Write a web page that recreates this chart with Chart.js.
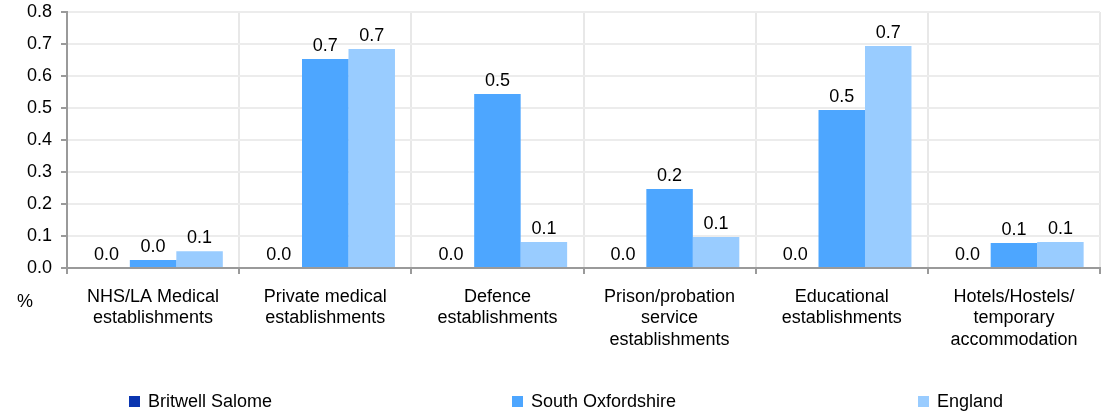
<!DOCTYPE html>
<html>
<head>
<meta charset="utf-8">
<script src="https://cdn.jsdelivr.net/npm/chart.js@4.4.1/dist/chart.umd.min.js"></script>
<style>
  body { margin: 0; background: #fff; }
  #wrap { width: 1106px; height: 412px; }
</style>
</head>
<body>
<div id="wrap"><canvas id="chart" width="1106" height="412"></canvas></div>
<script>
// data
const categories = [
  ['NHS/LA Medical', 'establishments'],
  ['Private medical', 'establishments'],
  ['Defence', 'establishments'],
  ['Prison/probation', 'service', 'establishments'],
  ['Educational', 'establishments'],
  ['Hotels/Hostels/', 'temporary', 'accommodation']
];
const seriesNames = ['Britwell Salome', 'South Oxfordshire', 'England'];
const britwell = [0, 0, 0, 0, 0, 0];
const southOxon = [0.025, 0.653, 0.544, 0.247, 0.494, 0.078];
const england = [0.052, 0.684, 0.081, 0.097, 0.694, 0.081];
const yTicks = [0, 0.1, 0.2, 0.3, 0.4, 0.5, 0.6, 0.7, 0.8];

const colors = ['#0a35b0', '#4da6ff', '#99ccff'];
const FONT = 'Liberation Sans, Arial, sans-serif';

// value labels above each bar
const valueLabels = {
  id: 'valueLabels',
  afterDatasetsDraw(chart) {
    const ctx = chart.ctx;
    ctx.save();
    ctx.font = '18px ' + FONT;
    ctx.fillStyle = '#000';
    ctx.textAlign = 'center';
    ctx.textBaseline = 'alphabetic';
    chart.data.datasets.forEach((ds, i) => {
      chart.getDatasetMeta(i).data.forEach((bar, j) => {
        ctx.fillText(ds.data[j].toFixed(1), bar.x, bar.y - 8);
      });
    });
    ctx.restore();
  }
};

// "%" unit label and the spread-out legend at the bottom
const extras = {
  id: 'extras',
  afterDraw(chart) {
    const ctx = chart.ctx;
    ctx.save();
    ctx.font = '18px ' + FONT;
    ctx.fillStyle = '#000';
    ctx.textBaseline = 'middle';
    ctx.textAlign = 'left';
    ctx.fillText('%', 17, 302);
    const starts = [129, 512, 918];
    chart.data.datasets.forEach((ds, i) => {
      ctx.fillStyle = ds.backgroundColor;
      ctx.fillRect(starts[i], 396, 11, 11);
      ctx.fillStyle = '#000';
      ctx.fillText(ds.label, starts[i] + 19, 402);
    });
    ctx.restore();
  }
};

new Chart(document.getElementById('chart'), {
  type: 'bar',
  data: {
    labels: categories,
    datasets: [
      { label: seriesNames[0], data: britwell, backgroundColor: colors[0] },
      { label: seriesNames[1], data: southOxon, backgroundColor: colors[1] },
      { label: seriesNames[2], data: england, backgroundColor: colors[2] }
    ]
  },
  options: {
    responsive: false,
    animation: false,
    layout: { padding: { top: 12, right: 6, left: 0, bottom: 0 } },
    datasets: { bar: { categoryPercentage: 0.81, barPercentage: 1.0 } },
    plugins: { legend: { display: false }, tooltip: { enabled: false } },
    scales: {
      x: {
        grid: { offset: true, color: '#e8e8e8', lineWidth: 2, tickColor: '#9a9a9a', tickLength: 6 },
        border: { color: '#9a9a9a', width: 2 },
        ticks: { color: '#000', font: { family: FONT, size: 18 }, padding: 12, maxRotation: 0, autoSkip: false },
        afterFit(scale) { scale.height = 144; }
      },
      y: {
        min: 0,
        max: 0.8,
        afterBuildTicks(scale) { scale.ticks = yTicks.map(v => ({ value: v })); },
        grid: { color: '#ececec', lineWidth: 2, tickColor: '#9a9a9a', tickLength: 6 },
        border: { color: '#9a9a9a', width: 2 },
        ticks: { color: '#000', font: { family: FONT, size: 18 }, padding: 9, callback: v => v.toFixed(1) },
        afterFit(scale) { scale.width = 67; scale.paddingTop = 0; scale.paddingBottom = 0; }
      }
    }
  },
  plugins: [valueLabels, extras]
});
</script>
</body>
</html>
